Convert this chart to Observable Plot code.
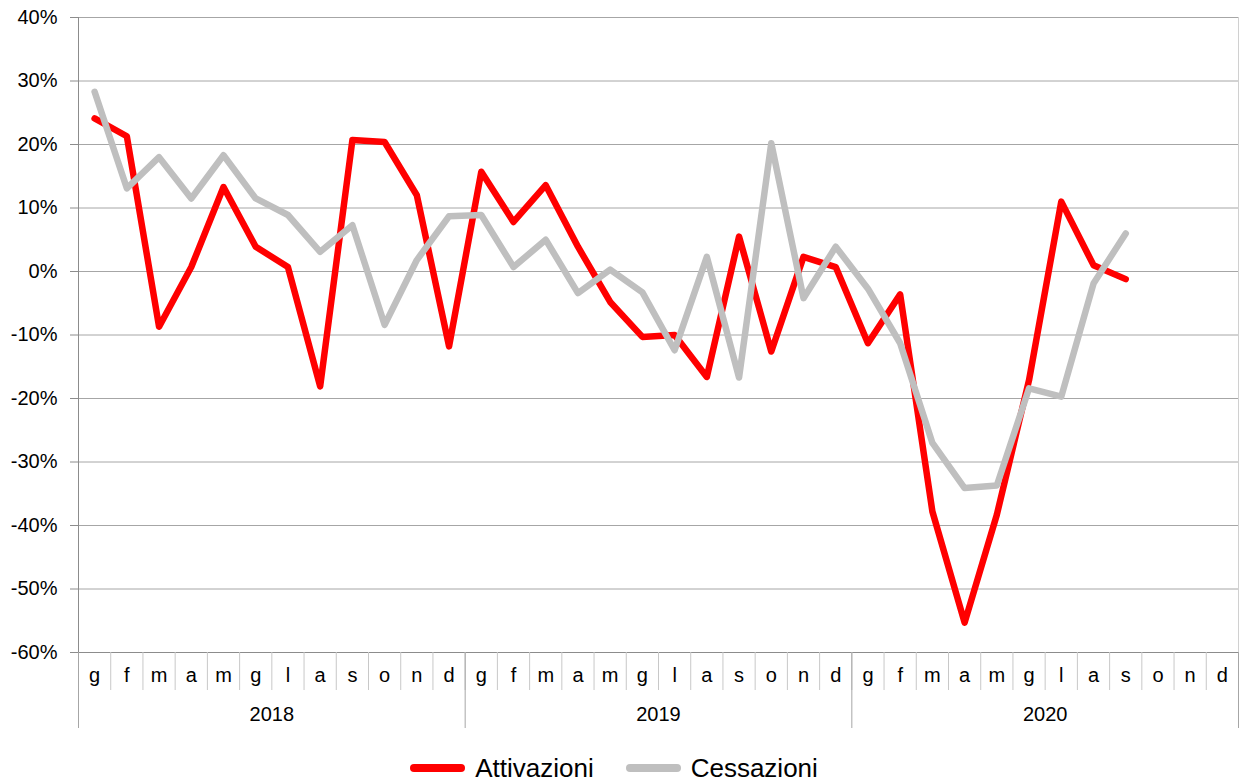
<!DOCTYPE html>
<html>
<head>
<meta charset="utf-8">
<script src="https://cdn.jsdelivr.net/npm/d3@7"></script>
<script src="https://cdn.jsdelivr.net/npm/@observablehq/plot@0.6"></script>
<style>
  html, body { margin: 0; padding: 0; background: #fff; }
  body { width: 1240px; height: 784px; overflow: hidden; font-family: "Liberation Sans", Arial, sans-serif; color: #000; }
  #legend { display: flex; justify-content: center; align-items: center; height: 56px; font-size: 26px; padding-right: 12px; }
  .item { display: flex; align-items: center; margin: 0 16px; }
  .sw { width: 55px; height: 8px; border-radius: 4px; margin-right: 10px; }
</style>
</head>
<body>
<div id="chart"></div>
<div id="legend"></div>
<script>
const monthLabels = ["g","f","m","a","m","g","l","a","s","o","n","d"];
const yearLabels = ["2018","2019","2020"];
const yTicks = [-60,-50,-40,-30,-20,-10,0,10,20,30,40];
const seriesNames = ["Attivazioni","Cessazioni"];
const seriesColors = ["#ff0000","#bfbfbf"];
// percent change, Jan 2018 .. Sep 2020
const attivazioni = [24.1,21.3,-8.7,0.7,13.3,3.9,0.7,-18.1,20.7,20.4,12.0,-11.8,
                     15.7,7.8,13.6,3.9,-4.8,-10.3,-10.0,-16.6,5.5,-12.6,2.3,0.7,
                     -11.3,-3.6,-37.8,-55.3,-38.3,-17.1,11.0,1.0,-1.2];
const cessazioni = [28.3,13.1,18.0,11.5,18.3,11.5,8.9,3.1,7.3,-8.4,1.8,8.7,
                    8.9,0.7,5.0,-3.4,0.3,-3.3,-12.4,2.3,-16.7,20.2,-4.2,3.9,
                    -2.7,-11.3,-27.0,-34.1,-33.7,-18.4,-19.7,-1.9,6.0];

const nCat = monthLabels.length * yearLabels.length;
const catIdx = d3.range(nCat);
const monthBounds = d3.range(nCat + 1).map(k => k - 0.5);
const yearBounds = d3.range(yearLabels.length + 1).map(k => k * 12 - 0.5);
const yearCenters = yearLabels.map((_, k) => k * 12 + 5.5);

const rows = [];
[attivazioni, cessazioni].forEach((arr, s) => arr.forEach((v, i) => rows.push({i, v, s: seriesNames[s]})));

const fmt = d => d + "%";

const chart = Plot.plot({
  width: 1240,
  height: 740,
  marginLeft: 78,
  marginRight: 2,
  marginTop: 17,
  marginBottom: 88,
  style: {fontFamily: "Liberation Sans, Arial, sans-serif", color: "#000", background: "#fff"},
  x: {type: "linear", domain: [-0.5, nCat - 0.5], axis: null, label: null},
  y: {domain: [-60, 40], axis: null, label: null},
  marks: [
    Plot.gridY(yTicks, {stroke: "#a6a6a6", strokeOpacity: 1, strokeWidth: 1}),
    Plot.ruleX([nCat - 0.5], {stroke: "#d0d0d0"}),
    Plot.ruleX([-0.5], {stroke: "#8c8c8c"}),
    Plot.ruleY([-60], {stroke: "#8c8c8c"}),
    Plot.axisY(yTicks, {anchor: "left", tickSize: 8, tickPadding: 13, tickFormat: fmt, fontSize: 20, stroke: "#8c8c8c", label: null}),
    Plot.axisX(monthBounds, {anchor: "bottom", tickSize: 38, tickFormat: () => "", stroke: "#c8c8c8", label: null}),
    Plot.axisX(yearBounds, {anchor: "bottom", tickSize: 76, tickFormat: () => "", stroke: "#a6a6a6", label: null}),
    Plot.axisX(catIdx, {anchor: "bottom", tickSize: 0, tickPadding: 15, tickFormat: i => monthLabels[i % 12], fontSize: 20, label: null}),
    Plot.axisX(yearCenters, {anchor: "bottom", tickSize: 0, tickPadding: 54, tickFormat: d => yearLabels[Math.floor(d / 12)], fontSize: 20, label: null}),
    Plot.line(rows, {x: "i", y: "v", z: "s", stroke: "s", strokeWidth: 6.5, strokeLinecap: "round", strokeLinejoin: "round"})
  ],
  color: {domain: seriesNames, range: seriesColors}
});
document.getElementById("chart").appendChild(chart);

const legend = document.getElementById("legend");
seriesNames.forEach((n, k) => {
  const it = document.createElement("div");
  it.className = "item";
  const sw = document.createElement("span");
  sw.className = "sw";
  sw.style.background = seriesColors[k];
  const t = document.createElement("span");
  t.textContent = n;
  it.appendChild(sw); it.appendChild(t);
  legend.appendChild(it);
});
</script>
</body>
</html>
